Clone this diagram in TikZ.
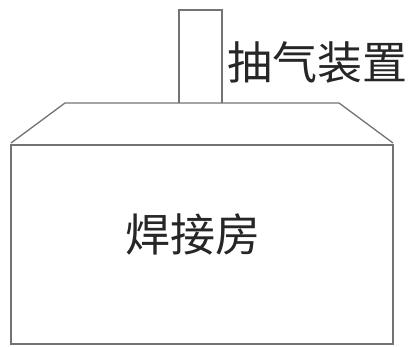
\documentclass[tikz,border=0pt]{standalone}
\usepackage{fontspec}
\newfontfamily\cjk{Noto Sans CJK SC}
\begin{document}
\begin{tikzpicture}[x=1pt,y=-1pt,
  wall/.style={draw=black!55,line width=1.3pt,line join=miter},
  lbl/.style={font=\cjk\fontsize{45}{48}\selectfont,text=black!85,inner sep=0pt}]
\useasboundingbox (0,0) rectangle (413,347);
\draw[wall] (11,145) rectangle (393,344);
\draw[wall] (11,143) -- (65,103) -- (339,103) -- (393,143);
\draw[wall] (179,103) -- (179,10) -- (222,10) -- (222,103);
\node[lbl] (exhaust) at (317,62) {抽气装置};
\node[lbl] (room) at (193,234) {焊接房};
\end{tikzpicture}
\end{document}
